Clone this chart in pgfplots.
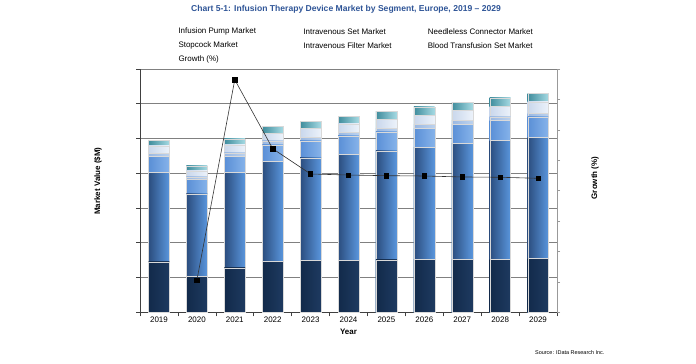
\documentclass[border=0pt]{standalone}
\usepackage{pgfplots}
\pgfplotsset{compat=1.18}
\usepackage{pgfplotstable}
\usepackage{fontspec}
\setmainfont{Liberation Sans}
\definecolor{sAl}{HTML}{122a4a}\definecolor{sAr}{HTML}{1E3A60}
\definecolor{sBl}{HTML}{2B4D7E}\definecolor{sBr}{HTML}{5A96DD}
\definecolor{sCl}{HTML}{5A8FD6}\definecolor{sCr}{HTML}{86B3EA}
\definecolor{sDl}{HTML}{9AB8E2}\definecolor{sDr}{HTML}{BCD2EE}
\definecolor{sEl}{HTML}{C9D7EC}\definecolor{sEr}{HTML}{ECF2FA}
\definecolor{sFl}{HTML}{3F8C9C}\definecolor{sFr}{HTML}{A6DAE3}
\definecolor{titleblue}{HTML}{2F5597}
\pgfplotstableread{
x a b c d e f
0 145.6 257 47 8 21 17
1 104 237 41 7.5 18 14
2 128 274 47 9.5 23 18
3 147 287 48 11.5 22 19
4 150 294 50 10 25 21
5 150 304 54 9.5 25 21
6 151 314 54 10.6 26 22
7 152.5 322 55.5 10.6 27 24
8 152.5 333 56 11.5 29 23
9 153 341.5 58.5 9.5 31 24
10 156 348 58.5 10.6 32.5 24
}\bars
\pgfplotstableread{
x g
1 -14.74
2 18.24
3 6.90
4 2.74
5 2.57
6 2.46
7 2.41
8 2.25
9 2.20
10 2.03
}\growth
\begin{document}
\begin{tikzpicture}
\useasboundingbox (0,0) rectangle (696bp,-364bp);
\begin{axis}[
  at={(140bp,-312.3bp)}, anchor=south west,
  width=417bp, height=243.3bp, scale only axis,
  ybar, bar width=0.55,
  xmin=-0.5, xmax=10.5, ymin=0, ymax=700,
  ytick={0,100,...,700}, yticklabels={},
  xtick={-0.5,0.5,...,10.5}, xticklabels={},
  extra x ticks={0,1,...,10},
  extra x tick labels={2019,2020,2021,2022,2023,2024,2025,2026,2027,2028,2029},
  extra x tick style={major tick length=0pt},
  axis x line*=bottom, axis y line*=left,
  tick align=outside, major tick length=4bp,
  ymajorgrids, major grid style={draw=black!50, line width=0.9pt},
  axis line style={draw=black!75, line width=0.6pt},
  tick style={draw=black!75, line width=0.6pt},
  /pgf/number format/assume math mode=true,
  ticklabel style={font=\fontsize{8}{9}\selectfont},
  xticklabel style={yshift=-1bp},
  xlabel={\textbf{Year}}, xlabel style={font=\fontsize{8}{9}\selectfont, yshift=4bp},
  every axis plot/.append style={draw=white!85!black, line width=0.2pt, bar shift=0pt},
]
\pgfplotsinvokeforeach{0,...,10}{
\addplot[left color=sFl, right color=sFr, x filter/.expression={abs(x-#1)<0.1 ? x : nan}] table[x=x, y expr=\thisrow{a}+\thisrow{b}+\thisrow{c}+\thisrow{d}+\thisrow{e}+\thisrow{f}]{\bars};
\addplot[left color=sEl, right color=sEr, x filter/.expression={abs(x-#1)<0.1 ? x : nan}] table[x=x, y expr=\thisrow{a}+\thisrow{b}+\thisrow{c}+\thisrow{d}+\thisrow{e}]{\bars};
\addplot[left color=sDl, right color=sDr, x filter/.expression={abs(x-#1)<0.1 ? x : nan}] table[x=x, y expr=\thisrow{a}+\thisrow{b}+\thisrow{c}+\thisrow{d}]{\bars};
\addplot[left color=sCl, right color=sCr, x filter/.expression={abs(x-#1)<0.1 ? x : nan}] table[x=x, y expr=\thisrow{a}+\thisrow{b}+\thisrow{c}]{\bars};
\addplot[left color=sBl, right color=sBr, x filter/.expression={abs(x-#1)<0.1 ? x : nan}] table[x=x, y expr=\thisrow{a}+\thisrow{b}]{\bars};
\addplot[left color=sAl, right color=sAr, x filter/.expression={abs(x-#1)<0.1 ? x : nan}] table[x=x, y=a]{\bars};
}
\end{axis}
\begin{axis}[
  at={(140bp,-312.3bp)}, anchor=south west,
  width=417bp, height=243.3bp, scale only axis,
  xmin=-0.5, xmax=10.5, ymin=-20, ymax=20,
  ytick={-20,-15,...,20}, yticklabels={},
  axis x line=none, axis y line*=right,
  tick align=outside, major tick length=3bp,
  axis line style={draw=black!40, line width=0.6pt},
  tick style={draw=black!40, line width=0.5pt},
]
\addplot[black!80, line width=0.6pt, mark=square*, mark size=2.2bp, mark options={fill=black, draw=black}] table[x=x,y=g]{\growth};
\end{axis}
\node[font=\bfseries\fontsize{8.6}{10}\selectfont, text=titleblue] at (346bp,-9.3bp) {Chart 5-1: Infusion Therapy Device Market by Segment, Europe, 2019 -- 2029};
\begin{scope}[every node/.style={anchor=west, inner sep=0pt, font=\fontsize{8}{9}\selectfont}]
\node at (178.3bp,-31.7bp) {Infusion Pump Market};
\node at (303.3bp,-31.7bp) {Intravenous Set Market};
\node at (427.7bp,-31.7bp) {Needleless Connector Market};
\node at (178.3bp,-45.3bp) {Stopcock Market};
\node at (303.3bp,-45.3bp) {Intravenous Filter Market};
\node at (427.7bp,-45.3bp) {Blood Transfusion Set Market};
\node at (178.3bp,-59.3bp) {Growth (\%)};
\end{scope}
\node[rotate=90, font=\bfseries\fontsize{8}{9}\selectfont] at (98bp,-181bp) {Market Value (\$M)};
\node[rotate=90, font=\bfseries\fontsize{8}{9}\selectfont] at (595bp,-178bp) {Growth (\%)};
\node[anchor=east, font=\fontsize{5.5}{6}\selectfont] at (608bp,-353bp) {Source: IData Research Inc.};
\end{tikzpicture}
\end{document}
